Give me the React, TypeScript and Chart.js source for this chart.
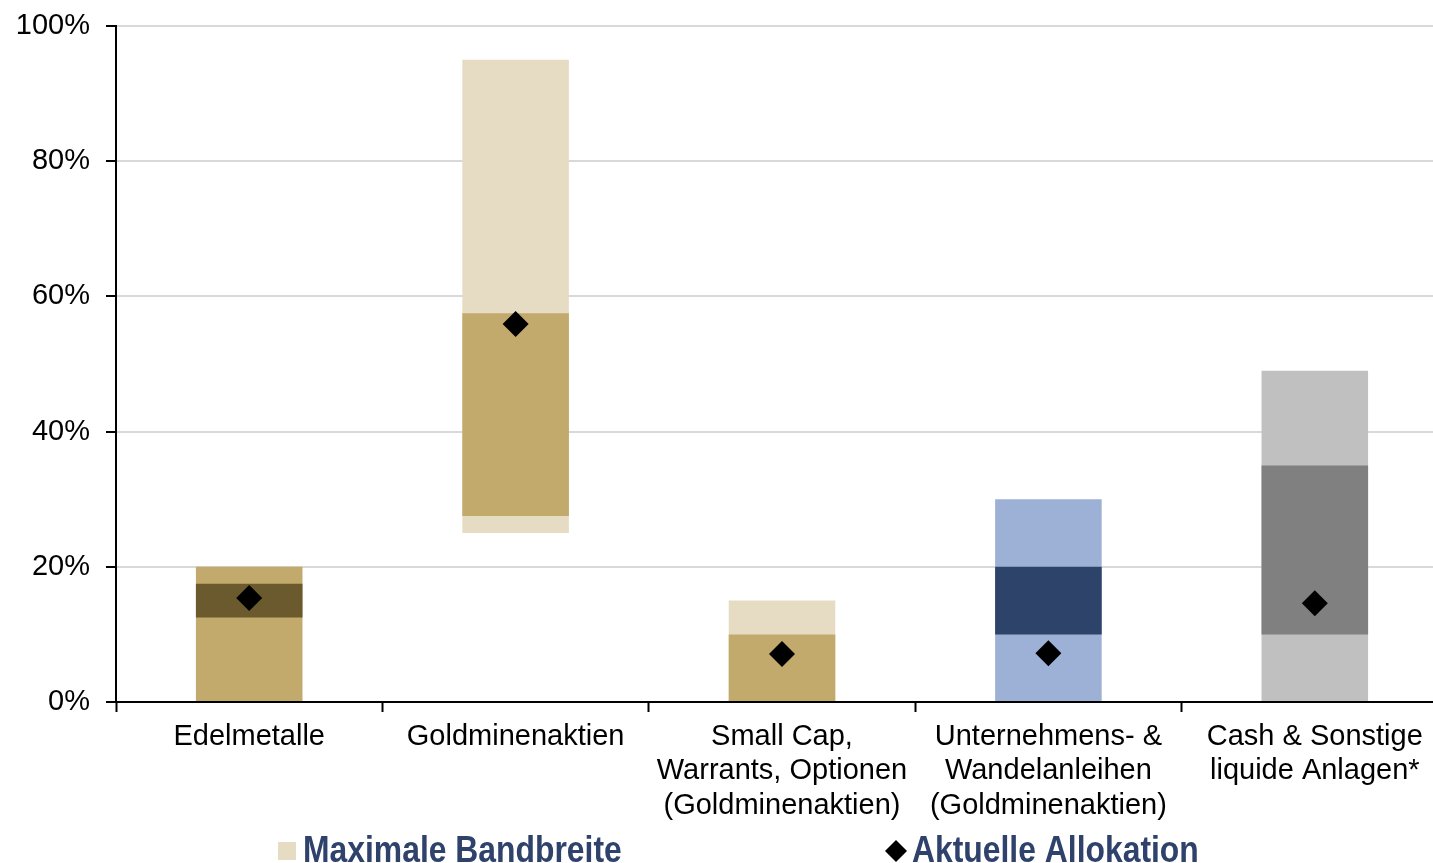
import React, { useEffect, useRef } from "react";
import { Chart, registerables } from "chart.js";

Chart.register(...registerables);

// ---- data ----
const categories: string[][] = [
  ["Edelmetalle"],
  ["Goldminenaktien"],
  ["Small Cap,", "Warrants, Optionen", "(Goldminenaktien)"],
  ["Unternehmens- &", "Wandelanleihen", "(Goldminenaktien)"],
  ["Cash & Sonstige", "liquide Anlagen*"],
];
const maxBandLow = [0, 25, 0, 0, 0];
const maxBandHigh = [20, 95, 15, 30, 49];
const coreBandLow = [12.5, 27.5, 0, 10, 10];
const coreBandHigh = [17.5, 57.5, 10, 20, 35];
const currentAllocation = [15.4, 55.9, 7.1, 7.2, 14.6];
const yTickValues = [0, 20, 40, 60, 80, 100];
const seriesLabels = ["Maximale Bandbreite", "Kernbandbreite", "Aktuelle Allokation"];

// ---- styles ----
const outerColors = ["#C2A96C", "#E6DCC3", "#E6DCC3", "#9DB0D6", "#C0C0C0"];
const innerColors = ["#6B5A2E", "#C2A96C", "#C2A96C", "#2E4369", "#808080"];
const FONT = '"Liberation Sans", Arial, sans-serif';
const LEGEND_TEXT = "#2E426B";
const CANVAS_W = 1461;
const CANVAS_H = 880;

const legendPlugin = {
  id: "customLegend",
  afterDraw(chart: any) {
    const ctx = chart.ctx as CanvasRenderingContext2D;
    const ds = chart.data.datasets;
    ctx.save();
    // item 1: square
    ctx.fillStyle = "#E6DCC3";
    ctx.fillRect(278, 842, 18, 18);
    ctx.font = `bold 36px ${FONT}`;
    ctx.textBaseline = "alphabetic";
    ctx.textAlign = "left";
    ctx.fillStyle = LEGEND_TEXT;
    ctx.save();
    ctx.translate(303, 862);
    ctx.scale(0.885, 1);
    ctx.fillText(ds[0].label, 0, 0);
    ctx.restore();
    // item 2: diamond
    ctx.fillStyle = "#000";
    ctx.beginPath();
    ctx.moveTo(896, 840);
    ctx.lineTo(907, 851);
    ctx.lineTo(896, 862);
    ctx.lineTo(885, 851);
    ctx.closePath();
    ctx.fill();
    ctx.fillStyle = LEGEND_TEXT;
    ctx.save();
    ctx.translate(912, 862);
    ctx.scale(0.885, 1);
    ctx.fillText(ds[2].label, 0, 0);
    ctx.restore();
    ctx.restore();
  },
};

export default function App() {
  const ref = useRef<HTMLCanvasElement | null>(null);

  useEffect(() => {
    if (!ref.current) return;
    const chart = new Chart(ref.current, {
      type: "bar",
      data: {
        labels: categories as any,
        datasets: [
          {
            type: "bar",
            label: seriesLabels[0],
            data: maxBandLow.map((lo, i) => [lo, maxBandHigh[i]]) as any,
            backgroundColor: outerColors,
            borderWidth: 0,
            grouped: false,
            barPercentage: 0.4,
            categoryPercentage: 1,
            order: 3,
          } as any,
          {
            type: "bar",
            label: seriesLabels[1],
            data: coreBandLow.map((lo, i) => [lo, coreBandHigh[i]]) as any,
            backgroundColor: innerColors,
            borderWidth: 0,
            grouped: false,
            barPercentage: 0.4,
            categoryPercentage: 1,
            order: 2,
          } as any,
          {
            type: "line",
            label: seriesLabels[2],
            data: currentAllocation,
            showLine: false,
            pointStyle: "rectRot",
            pointRadius: 13,
            pointHoverRadius: 13,
            pointBackgroundColor: "#000",
            pointBorderWidth: 0,
            borderColor: "#000",
            backgroundColor: "#000",
            order: 1,
          } as any,
        ],
      },
      options: {
        animation: false,
        responsive: false,
        maintainAspectRatio: false,
        devicePixelRatio: 1,
        layout: { padding: { top: 26, left: 0, right: 0, bottom: 0 } },
        plugins: {
          legend: { display: false },
          tooltip: { enabled: false },
        },
        scales: {
          x: {
            offset: true,
            grid: {
              offset: true,
              drawOnChartArea: false,
              drawTicks: true,
              tickLength: 10,
              tickColor: "#000",
              tickWidth: 2,
            },
            border: { display: true, color: "#000", width: 2 },
            ticks: {
              color: "#000",
              font: { family: FONT, size: 29, lineHeight: 1.18 },
              padding: 8,
              maxRotation: 0,
              autoSkip: false,
            },
            afterFit: (scale: any) => {
              scale.height = 178;
              scale.paddingLeft = 0;
              scale.paddingRight = 0;
            },
          },
          y: {
            min: 0,
            max: 100,
            afterBuildTicks: (scale: any) => {
              scale.ticks = yTickValues.map((v) => ({ value: v }));
            },
            grid: {
              color: "#D9D9D9",
              lineWidth: 2,
              drawTicks: true,
              tickLength: 10,
              tickColor: "#000",
              tickWidth: 2,
            },
            border: { display: true, color: "#000", width: 2 },
            ticks: {
              color: "#000",
              font: { family: FONT, size: 29 },
              padding: 16,
              callback: (v: any) => `${v}%`,
            },
            afterFit: (scale: any) => {
              scale.width = 116;
              scale.paddingTop = 0;
              scale.paddingBottom = 0;
            },
          },
        },
      },
      plugins: [legendPlugin],
    });
    return () => chart.destroy();
  }, []);

  return (
    <div style={{ position: "fixed", left: 0, top: 0, width: CANVAS_W, height: CANVAS_H, background: "#fff" }}>
      <canvas ref={ref} width={CANVAS_W} height={CANVAS_H} style={{ display: "block" }} />
    </div>
  );
}
